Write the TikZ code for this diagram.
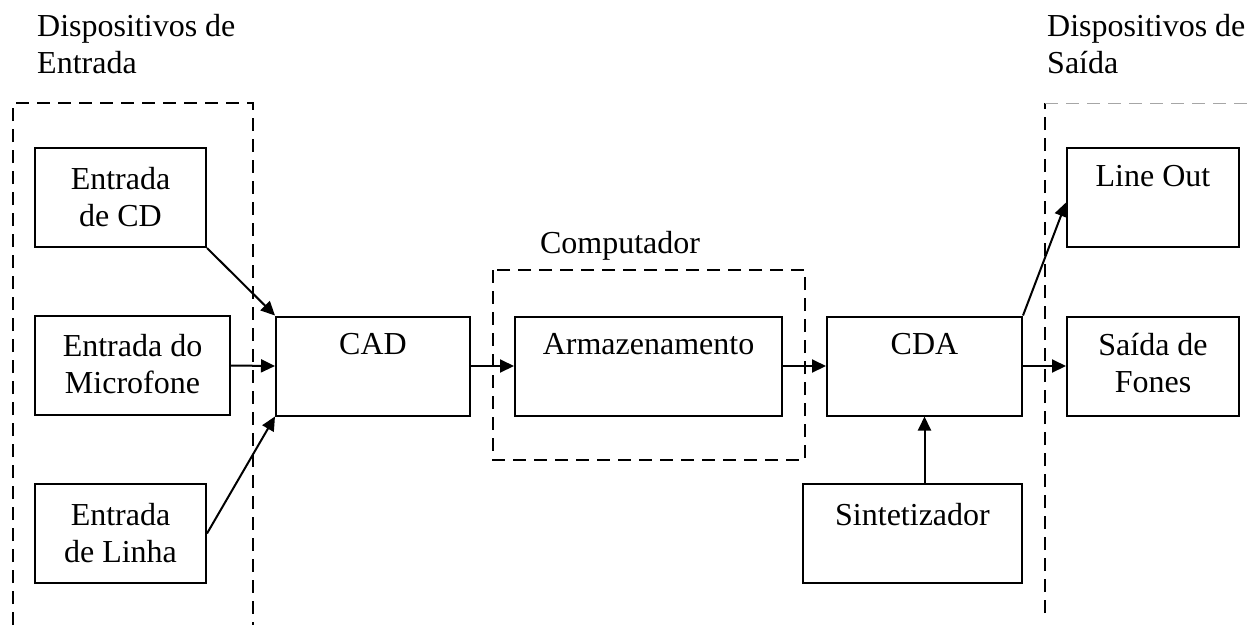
\documentclass[tikz,border=0pt]{standalone}
\usepackage{fontspec}
\setmainfont{Liberation Serif}
\usetikzlibrary{arrows.meta,calc}
\begin{document}
\begin{tikzpicture}[x=1pt,y=-1pt,
  box/.style={draw,line width=2pt,inner sep=0pt,minimum height=99pt},
  txt/.style={font=\fontsize{32}{37}\selectfont,align=center,inner sep=0pt,anchor=north},
  lbl/.style={font=\fontsize{32}{37}\selectfont,align=left,inner sep=0pt,anchor=north west},
  conn/.style={line width=2pt,-{Triangle[length=14pt,width=13pt]}},
  region/.style={line width=2pt,dash pattern=on 13pt off 8pt}
]
\useasboundingbox (0,0) rectangle (1254,625);
% regions
\draw[region] (13,625) -- (13,103) -- (253,103) -- (253,625);
\draw[region] (1045,613) -- (1045,103);
\draw[region,line width=1pt,black!35] (1045,103) -- (1254,103);
\draw[region] (493,270) rectangle (805,460);
% labels
\node[lbl] (lin) at (37,14) {Dispositivos de\\Entrada};
\node[lbl] (lout) at (1047,14) {Dispositivos de\\Saída};
\node[txt] (lcomp) at (620,231) {Computador};
% boxes
\node[box,minimum width=171pt] (cd) at (120.5,197.5) {};
\node[box,minimum width=195pt] (mic) at (132.5,365.5) {};
\node[box,minimum width=171pt] (linha) at (120.5,533.5) {};
\node[box,minimum width=194pt] (cad) at (373,366) {};
\node[box,minimum width=267pt] (arm) at (648.5,366) {};
\node[box,minimum width=195pt] (cda) at (924.5,366) {};
\node[box,minimum width=172pt] (lineout) at (1153,197.5) {};
\node[box,minimum width=172pt] (saida) at (1153,366) {};
\node[box,minimum width=219pt] (sint) at (912.5,533.5) {};
% texts
\node[txt] (tcd) at ($(cd.north)+(0,20)$) {Entrada\\de CD};
\node[txt] (tmic) at ($(mic.north)+(0,19)$) {Entrada do\\Microfone};
\node[txt] (tlinha) at ($(linha.north)+(0,20)$) {Entrada\\de Linha};
\node[txt] (tcad) at ($(cad.north)+(0,18)$) {CAD};
\node[txt] (tarm) at ($(arm.north)+(0,18)$) {Armazenamento};
\node[txt] (tcda) at ($(cda.north)+(0,18)$) {CDA};
\node[txt] (tlo) at ($(lineout.north)+(0,18)$) {Line Out};
\node[txt] (tsaida) at ($(saida.north)+(0,18)$) {Saída de\\Fones};
\node[txt] (tsint) at ($(sint.north)+(0,20)$) {Sintetizador};
% connectors
\draw[conn] (cd.south east) -- (cad.north west);
\draw[conn] (mic.east) -- (cad.west);
\draw[conn] (linha.east) -- (cad.south west);
\draw[conn] (cad.east) -- (arm.west);
\draw[conn] (arm.east) -- (cda.west);
\draw[conn] (cda.east) -- (saida.west);
\draw[conn] (cda.north east) -- ([yshift=-5pt]lineout.west);
\draw[conn] (cda.south |- sint.north) -- (cda.south);
\end{tikzpicture}
\end{document}
